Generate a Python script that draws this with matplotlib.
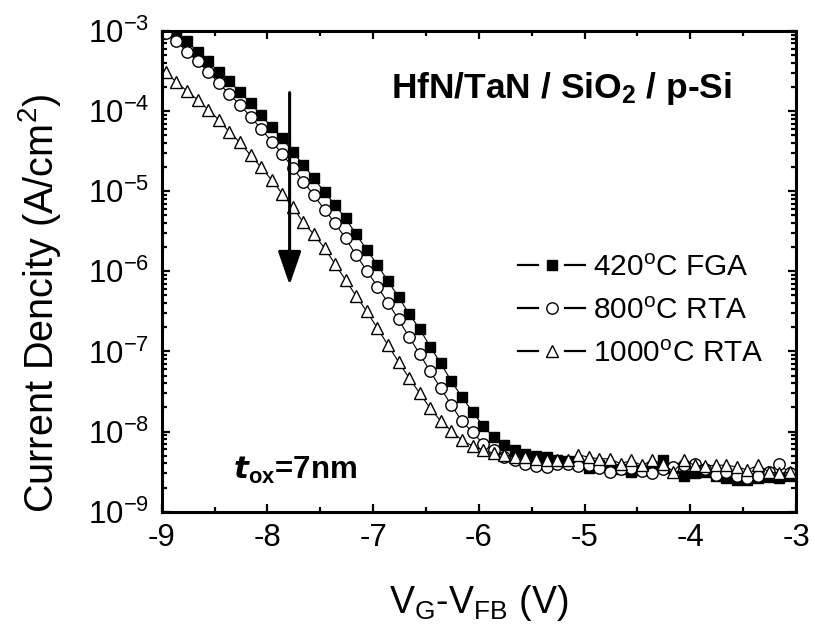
import numpy as np
import matplotlib
matplotlib.use('Agg')
import matplotlib.pyplot as plt
from matplotlib.lines import Line2D
from matplotlib.legend_handler import HandlerBase
from matplotlib.ticker import LogLocator, MultipleLocator, NullFormatter

plt.rcParams['font.family'] = ['Liberation Sans', 'DejaVu Sans']
plt.rcParams['mathtext.fontset'] = 'custom'
plt.rcParams['mathtext.rm'] = 'Liberation Sans'
plt.rcParams['mathtext.it'] = 'Liberation Sans:italic'
plt.rcParams['mathtext.bf'] = 'Liberation Sans:bold'
plt.rcParams['axes.unicode_minus'] = False

# ---- data (gate voltage grid, log10 of current density) ----
V = np.round(-8.96 + 0.1 * np.arange(60), 2)

logJ_420_fga = [-2.95, -3.05, -3.13, -3.26, -3.38, -3.51, -3.63, -3.76, -3.90, -4.05,
                -4.20, -4.34, -4.51, -4.67, -4.84, -5.01, -5.17, -5.34, -5.54, -5.73,
                -5.92, -6.12, -6.32, -6.53, -6.72, -6.94, -7.15, -7.37, -7.57, -7.75,
                -7.93, -8.07, -8.17, -8.23, -8.28, -8.31, -8.32, -8.35, -8.37, -8.40,
                -8.45, -8.42, -8.44, -8.47, -8.50, -8.48, -8.45, -8.36, -8.45, -8.56,
                -8.52, -8.50, -8.55, -8.58, -8.61, -8.60, -8.58, -8.57, -8.58, -8.55]

logJ_800_rta = [-3.02, -3.13, -3.26, -3.38, -3.51, -3.65, -3.79, -3.92, -4.07, -4.22,
                -4.38, -4.53, -4.71, -4.88, -5.05, -5.23, -5.40, -5.59, -5.80, -5.99,
                -6.19, -6.39, -6.60, -6.82, -7.03, -7.25, -7.46, -7.67, -7.87, -8.01,
                -8.15, -8.23, -8.32, -8.36, -8.40, -8.43, -8.44, -8.41, -8.40, -8.43,
                -8.42, -8.46, -8.50, -8.47, -8.45, -8.49, -8.52, -8.47, -8.44, -8.42,
                -8.40, -8.47, -8.54, -8.50, -8.55, -8.58, -8.56, -8.50, -8.40, -8.52]

logJ_1000_rta = [-3.51, -3.64, -3.75, -3.86, -3.98, -4.11, -4.26, -4.39, -4.55, -4.70,
                 -4.86, -5.03, -5.20, -5.39, -5.54, -5.71, -5.91, -6.11, -6.31, -6.50,
                 -6.71, -6.92, -7.13, -7.33, -7.52, -7.71, -7.87, -7.99, -8.11, -8.18,
                 -8.23, -8.27, -8.29, -8.32, -8.32, -8.34, -8.35, -8.36, -8.36, -8.29,
                 -8.32, -8.34, -8.34, -8.40, -8.36, -8.42, -8.36, -8.40, -8.50, -8.36,
                 -8.42, -8.43, -8.42, -8.42, -8.44, -8.48, -8.42, -8.50, -8.52, -8.51]

labels = [r'420$^{\rm o}$C FGA', r'800$^{\rm o}$C RTA', r'1000$^{\rm o}$C RTA']
x_ticks = [-9, -8, -7, -6, -5, -4, -3]
arrow_x = -7.79
arrow_from = 10 ** -3.77
arrow_to = 10 ** -6.17


class GapLineHandler(HandlerBase):
    """Legend key drawn as  --marker--  with small gaps around the marker."""
    def create_artists(self, legend, orig_handle, xdescent, ydescent,
                       width, height, fontsize, trans):
        y = height / 2.0 - ydescent
        x0 = -xdescent
        x1 = x0 + width
        seg = 0.30 * width
        l_a = Line2D([x0, x0 + seg], [y, y], color='k', lw=1.6)
        l_b = Line2D([x1 - seg, x1], [y, y], color='k', lw=1.6)
        mk = Line2D([0.5 * (x0 + x1)], [y], ls='none',
                    marker=orig_handle.get_marker(),
                    ms=orig_handle.get_markersize(),
                    mfc=orig_handle.get_markerfacecolor(),
                    mec=orig_handle.get_markeredgecolor(),
                    mew=orig_handle.get_markeredgewidth())
        for a in (l_a, l_b, mk):
            a.set_transform(trans)
        return [l_a, l_b, mk]


fig = plt.figure(figsize=(8.15, 6.26), dpi=100)
ax = fig.add_axes([0.1984, 0.1826, 0.7783, 0.7679])

l1, = ax.plot(V, 10.0 ** np.array(logJ_420_fga), '-', color='k', lw=0.8,
              marker='s', ms=7.3, mfc='k', mec='k', mew=1.0, label=labels[0])
l2, = ax.plot(V, 10.0 ** np.array(logJ_800_rta), '-', color='k', lw=0.8,
              marker='o', ms=8.2, mfc='white', mec='k', mew=1.0, label=labels[1])
l3, = ax.plot(V, 10.0 ** np.array(logJ_1000_rta), '-', color='k', lw=0.8,
              marker='^', ms=9, mfc='white', mec='k', mew=1.0, label=labels[2])

ax.set_yscale('log')
ax.set_xlim(-9, -3)
ax.set_ylim(1e-9, 1e-3)
ax.set_xticks(x_ticks)
ax.xaxis.set_minor_locator(MultipleLocator(0.5))
ax.yaxis.set_major_locator(LogLocator(base=10, numticks=20))
ax.yaxis.set_minor_locator(LogLocator(base=10, subs=np.arange(2, 10), numticks=20))
ax.yaxis.set_minor_formatter(NullFormatter())

for s in ax.spines.values():
    s.set_linewidth(2.2)
ax.tick_params(which='both', direction='in', top=True, right=True, width=1.6)
ax.tick_params(which='major', length=6, labelsize=22.5)
ax.tick_params(which='minor', length=3.5)
ax.tick_params(axis='y', which='major', pad=9)
ax.tick_params(axis='x', which='major', pad=8)

ax.set_xlabel(r'V$_{\rm G}$-V$_{\rm FB}$ (V)', fontsize=27)
ax.xaxis.set_label_coords(0.5, -0.148)
ax.set_ylabel(r'Current Dencity (A/cm$^{2}$)', fontsize=28.5)
ax.yaxis.set_label_coords(-0.155, 0.434)

ax.text(0.361, 0.86, r'HfN/TaN / SiO$_{\mathbf{2}}$ / p-Si', transform=ax.transAxes,
        fontsize=25.5, fontweight='bold', ha='left', va='baseline')
ax.text(0.112, 0.068, r'$\mathbfit{t}_{\mathbf{ox}}$=7nm', transform=ax.transAxes,
        fontsize=22.5, fontweight='bold', ha='left', va='baseline')

ax.annotate('', xy=(arrow_x, arrow_to), xytext=(arrow_x, arrow_from),
            arrowprops=dict(arrowstyle='-|>,head_length=1.04,head_width=0.36',
                            mutation_scale=20, lw=2.2, color='k',
                            shrinkA=0, shrinkB=0))

ax.legend(handles=[l1, l2, l3], loc='center left', bbox_to_anchor=(0.5617, 0.418),
          frameon=False, fontsize=21.5, handlelength=2.25, handletextpad=0.27,
          labelspacing=0.5, borderpad=0, borderaxespad=0,
          handler_map={Line2D: GapLineHandler()})

fig.savefig('out.png', dpi=100)
